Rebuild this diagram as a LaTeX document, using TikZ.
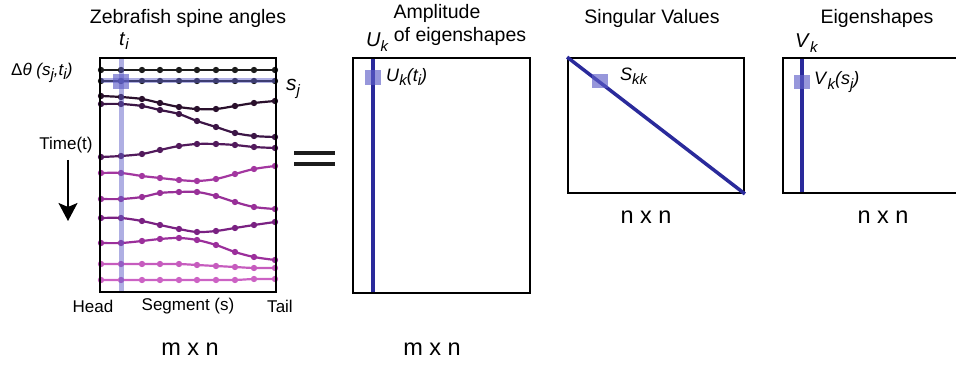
\documentclass[tikz,border=0pt]{standalone}
\usepackage{fontspec}
\setmainfont{Liberation Sans}
\usetikzlibrary{arrows.meta}
\definecolor{hiblue}{RGB}{95,95,200}
\definecolor{vecblue}{RGB}{42,42,155}
\definecolor{ca}{RGB}{28,28,28}
\definecolor{cb}{RGB}{42,16,44}
\definecolor{cc}{RGB}{60,22,70}
\definecolor{cd}{RGB}{82,26,92}
\definecolor{ce}{RGB}{163,55,160}
\definecolor{cf}{RGB}{152,48,152}
\definecolor{cg}{RGB}{122,33,130}
\definecolor{ch}{RGB}{155,47,155}
\definecolor{ci}{RGB}{198,92,190}
\definecolor{cj}{RGB}{204,98,196}
\newcommand\lo[1]{\raisebox{-0.45ex}{\fontsize{15}{15}\selectfont\itshape #1}}
\begin{document}
\begin{tikzpicture}[x=1pt,y=-1pt,
  box/.style={draw=black,line width=1.8pt},
  lbl/.style={inner sep=0pt,font=\fontsize{17}{18}\selectfont},
  ttl/.style={inner sep=0pt,font=\fontsize{19.5}{21}\selectfont},
  dimlbl/.style={inner sep=0pt,font=\fontsize{23.5}{25}\selectfont},
  hisq/.style={fill=hiblue,fill opacity=0.65},
  vec/.style={draw=vecblue,line width=3.5pt},
  row/.style={line width=2.2pt,line join=round},
  pts/.style={smooth,tension=0.55,mark=*,mark size=2pt}]
\useasboundingbox (0,0) rectangle (956,366);
% ---------- Zebrafish spine angles ----------
\draw[row,color=ca] plot[pts] coordinates {(101,70) (121,70) (142,70) (160,70) (179,70) (197,70) (216,70) (235,70) (254,70) (275,70)};
\draw[row,color=ca] plot[pts] coordinates {(101,81) (121,81) (142,81) (160,81) (179,81) (197,81) (216,81) (235,81) (254,81) (275,81)};
\draw[row,color=cb] plot[pts] coordinates {(101,96) (121,97) (142,99) (160,103) (179,107) (197,109) (216,109) (235,106) (254,103) (275,101)};
\draw[row,color=cc] plot[pts] coordinates {(101,104) (121,104) (142,106) (160,110) (179,114) (197,121) (216,127) (235,133) (254,136) (275,137)};
\draw[row,color=cd] plot[pts] coordinates {(101,157) (121,156) (142,154) (160,150) (179,146) (197,144) (216,144) (235,145) (254,147) (275,148)};
\draw[row,color=ce] plot[pts] coordinates {(101,173) (121,173) (142,176) (160,178) (179,180) (197,181) (216,179) (235,174) (254,169) (275,166)};
\draw[row,color=cf] plot[pts] coordinates {(101,199) (121,199) (142,197) (160,193) (179,192) (197,192) (216,196) (235,202) (254,207) (275,209)};
\draw[row,color=cg] plot[pts] coordinates {(101,218) (121,218) (142,221) (160,225) (179,229) (197,232) (216,231) (235,228) (254,225) (275,222)};
\draw[row,color=ch] plot[pts] coordinates {(101,243) (121,243) (142,241) (160,239) (179,238) (197,240) (216,245) (235,252) (254,257) (275,260)};
\draw[row,color=ci] plot[pts] coordinates {(101,264) (121,264) (142,264) (160,264) (179,264) (197,265) (216,266) (235,267) (254,268) (275,268)};
\draw[row,color=cj] plot[pts] coordinates {(101,280) (121,280) (142,280) (160,280) (179,280) (197,280) (216,280) (235,280) (254,279) (275,279)};
\fill[hiblue,opacity=0.5] (101,78.5) rectangle (275,83.5);
\fill[hiblue,opacity=0.5] (118.5,58) rectangle (123.5,292);
\fill[hisq] (113,74) rectangle (129,89);
\node[box,minimum width=176pt,minimum height=234pt,inner sep=0pt] (zbox) at (188,175) {};
\node[ttl] (ztitle) at (188,18) {Zebrafish spine angles};
\node[inner sep=0pt,font=\fontsize{20}{21}\selectfont] (ti) at (124,41) {\textit{t}\lo{i}};
\node[inner sep=0pt,anchor=west,font=\fontsize{17}{18}\selectfont] (dtheta) at (11,73) {Δ\textit{θ (s\lo{j},t\lo{i})}};
\node[inner sep=0pt,font=\fontsize{21}{22}\selectfont] (sj) at (293,89) {\textit{s}\lo{j}};
\node[lbl] (time) at (66,145) {Time(t)};
\coordinate (atop) at (68,160);
\coordinate (abot) at (68,221);
\draw[line width=2pt,-{Stealth[length=18pt,width=19pt,inset=4pt]}] (atop) -- (abot);
\node[lbl] (head) at (93,306) {Head};
\node[lbl] (seg) at (188,306) {Segment (s)};
\node[lbl] (tail) at (280,306) {Tail};
\node[dimlbl] (zdim) at (190,349) {m x n};
% ---------- equals ----------
\draw[line width=4pt,color=ca] (294,153) -- (335,153);
\draw[line width=4pt,color=ca] (294,164) -- (335,164);
% ---------- U ----------
\draw[vec] (373,58) -- (373,293);
\fill[hisq] (365,70) rectangle (381,85);
\node[box,minimum width=177pt,minimum height=235pt,inner sep=0pt] (ubox) at (441.5,175.5) {};
\node[ttl] (ut1) at (437,13) {Amplitude};
\node[ttl] (ut2) at (460,36) {of eigenshapes};
\node[inner sep=0pt,anchor=west,font=\fontsize{20}{21}\selectfont] (uk) at (366,42) {\textit{U}\lo{k}};
\node[inner sep=0pt,anchor=west,font=\fontsize{18}{19}\selectfont] (ukt) at (386,77) {\textit{U}\lo{k}\textit{(t\lo{i})}};
\node[dimlbl] (udim) at (432,349) {m x n};
% ---------- S ----------
\node[box,minimum width=176pt,minimum height=135pt,inner sep=0pt] (sbox) at (656,125.5) {};
\draw[vec] (sbox.north west) -- (sbox.south east);
\fill[hisq] (592,74) rectangle (608,88);
\node[ttl] (st) at (652,18) {Singular Values};
\node[inner sep=0pt,anchor=west,font=\fontsize{18}{19}\selectfont] (skk) at (620,76) {\textit{S}\lo{kk}};
\node[dimlbl] (sdim) at (646,217) {n x n};
% ---------- V ----------
\draw[vec] (802,58) -- (802,193);
\fill[hisq] (794,75) rectangle (810,89);
\node[box,minimum width=190pt,minimum height=135pt,inner sep=0pt] (vbox) at (878,125.5) {};
\node[ttl] (vt) at (877,18) {Eigenshapes};
\node[inner sep=0pt,anchor=west,font=\fontsize{20}{21}\selectfont] (vk) at (795,43) {\textit{V}\lo{k}};
\node[inner sep=0pt,anchor=west,font=\fontsize{18}{19}\selectfont] (vks) at (814,82) {\textit{V}\lo{k}\textit{(s\lo{j})}};
\node[dimlbl] (vdim) at (883,217) {n x n};
\end{tikzpicture}
\end{document}
